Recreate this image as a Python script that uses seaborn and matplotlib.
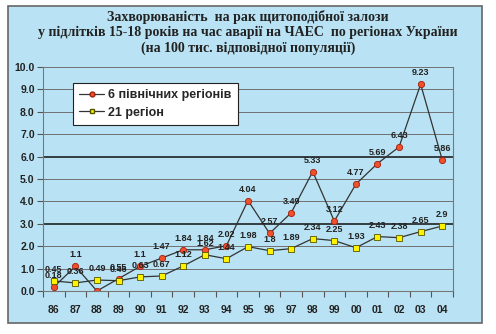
import numpy as np
import pandas as pd
import matplotlib
matplotlib.use("Agg")
import matplotlib.pyplot as plt
import seaborn as sns
from matplotlib.patches import Rectangle

# Thyroid cancer incidence, per 100k of the relevant population
years = ["86", "87", "88", "89", "90", "91", "92", "93", "94", "95",
         "96", "97", "98", "99", "00", "01", "02", "03", "04"]
north6 = [0.18, 1.1, 0.0, 0.55, 1.1, 1.47, 1.84, 1.84, 2.02, 4.04,
          2.57, 3.49, 5.33, 3.12, 4.77, 5.69, 6.43, 9.23, 5.86]
regions21 = [0.45, 0.36, 0.49, 0.46, 0.63, 0.67, 1.12, 1.62, 1.44, 1.98,
             1.8, 1.89, 2.34, 2.25, 1.93, 2.43, 2.38, 2.65, 2.9]
series_names = ["6 північних регіонів", "21 регіон"]
title_lines = ["Захворюваність  на рак щитоподібної залози",
               "у підлітків 15-18 років на час аварії на ЧАЕС  по регіонах України",
               "(на 100 тис. відповідної популяції)"]
yticks = np.arange(0, 10.5, 1.0)

bg = "#b9e3f4"
sns.set_theme(style="white")
plt.rcParams["font.family"] = ["Liberation Sans", "DejaVu Sans"]

df = pd.DataFrame({
    "pos": list(range(len(years))) * 2,
    "value": north6 + regions21,
    "series": [series_names[0]] * len(years) + [series_names[1]] * len(years),
})

fig = plt.figure(figsize=(4.96, 3.34), dpi=100)
fig.patch.set_facecolor("white")
panel = Rectangle((8 / 496, 1 - 323 / 334), 474 / 496, 317 / 334,
                  transform=fig.transFigure, facecolor=bg,
                  edgecolor="#666666", linewidth=1.2, zorder=-10)
fig.add_artist(panel)

ax = fig.add_axes([43 / 496, 1 - 291 / 334, 410 / 496, 224 / 334])
ax.set_zorder(1)
ax.set_facecolor(bg)

sns.lineplot(data=df, x="pos", y="value", hue="series", style="series",
             palette=["#333333", "#333333"], markers=["o", "s"],
             dashes=False, linewidth=0.9, markersize=4.5, ax=ax, legend=False)

# recolour markers per series
lines = ax.get_lines()
lines[0].set_markerfacecolor("#f0502a")
lines[0].set_markeredgecolor("#a02010")
lines[0].set_markeredgewidth(0.6)
lines[1].set_markerfacecolor("#fff200")
lines[1].set_markeredgecolor("#555500")
lines[1].set_markeredgewidth(0.6)
lines[1].set_markersize(4.2)

# value labels
for vals in (north6, regions21):
    for i, v in enumerate(vals):
        if v == 0:
            continue
        ax.annotate(f"{v:g}", (i, v), xytext=(0, 5), textcoords="offset points",
                    ha="center", va="bottom", fontsize=6.5, fontweight="bold",
                    color="#222222")

# grid lines
for y in yticks:
    strong = y in (3.0, 6.0)
    ax.axhline(y, color="#111111" if strong else "#707070",
               linewidth=1.1 if strong else 0.7, zorder=0.5)

ax.set_xlim(-0.5, len(years) - 0.5)
ax.set_ylim(0, 10)
ax.set_yticks(yticks)
ax.set_yticklabels([f"{t:.1f}" for t in yticks], fontsize=7.5,
                   fontweight="bold", color="#222222")
ax.set_xticks(range(len(years)))
ax.set_xticklabels(years, fontsize=7.5, fontweight="bold", color="#222222")
ax.set_xticks(np.arange(len(years) + 1) - 0.5, minor=True)
ax.tick_params(axis="x", which="major", length=0, pad=10)
ax.tick_params(axis="x", which="minor", length=4, width=0.8, color="#555555",
               direction="out", bottom=True)
ax.tick_params(axis="y", which="major", length=4, width=0.8, color="#555555",
               direction="out", left=True, pad=2)
ax.set_xlabel("")
ax.set_ylabel("")
for s in ax.spines.values():
    s.set_color("#777777")
    s.set_linewidth(0.8)
ax.spines["top"].set_visible(False)

# legend
h1 = plt.Line2D([], [], color="#333333", lw=0.9, marker="o", markersize=3.5,
                markerfacecolor="#f0502a", markeredgecolor="#a02010")
h2 = plt.Line2D([], [], color="#333333", lw=0.9, marker="s", markersize=3,
                markerfacecolor="#fff200", markeredgecolor="#555500")
leg = ax.legend([h1, h2], series_names, loc="upper left",
                bbox_to_anchor=(0.073, 0.929), borderaxespad=0,
                frameon=True, fancybox=False,
                handlelength=2.0, handletextpad=0.3, labelspacing=0.45,
                borderpad=0.5, prop={"size": 9, "weight": "bold"})
leg.get_frame().set_edgecolor("#222222")
leg.get_frame().set_linewidth(0.8)
leg.get_frame().set_facecolor("white")
leg.get_frame().set_alpha(1)

# title
for k, line in enumerate(title_lines):
    fig.text(0.5, 1 - (17 + 15.5 * k) / 334, line, ha="center", va="center",
             fontsize=10, fontweight="bold", family="Liberation Serif",
             color="#222222")

fig.savefig("out.png", dpi=100, facecolor="white")
